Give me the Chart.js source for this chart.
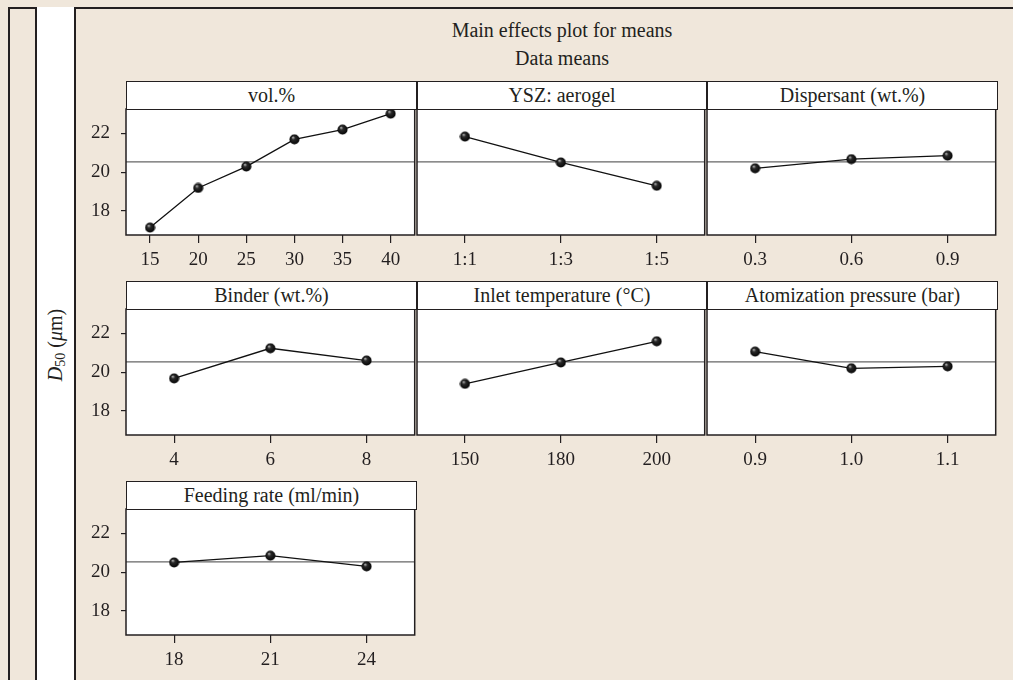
<!DOCTYPE html>
<html>
<head>
<meta charset="utf-8">
<script src="https://cdn.jsdelivr.net/npm/chart.js"></script>
<style>
  body { margin:0; background:#f0e7db; font-family:"Liberation Serif", serif; color:#231f20; }
  #page { position:relative; width:1013px; height:680px; overflow:hidden; }
  #frame { position:absolute; left:8px; top:7px; width:1100px; height:700px; border-left:2px solid #231f20; border-top:2px solid #231f20; }
  #strip { position:absolute; left:35px; top:7px; width:37px; height:700px; background:#fff; border-left:2px solid #231f20; border-right:2px solid #231f20; }
  #ylab { position:absolute; left:56px; top:345px; transform:translate(-50%,-50%) rotate(-90deg); font-size:20px; white-space:nowrap; }
  #ylab sub { font-size:14px; vertical-align:-3px; }
  .ttl { position:absolute; left:562px; transform:translate(-50%,-50%); font-size:20px; white-space:nowrap; }
  .head { position:absolute; height:29px; box-sizing:border-box; background:#fff; border:1.5px solid #231f20; text-align:center; font-size:20px; line-height:26px; white-space:nowrap; }
  canvas { position:absolute; }
</style>
</head>
<body>
<div id="page">
  <div id="frame"></div>
  <div id="strip"></div>
  <div id="ylab"><i>D</i><sub>50</sub> (<i>μ</i>m)</div>
  <div class="ttl" style="top:30px">Main effects plot for means</div>
  <div class="ttl" style="top:58px">Data means</div>
</div>
<script>
// factor levels and mean D50 values
var volLevels = ['15', '20', '25', '30', '35', '40'];
var volMeans = [17.15, 19.19, 20.29, 21.69, 22.19, 23.01];
var yszLevels = ['1:1', '1:3', '1:5'];
var yszMeans = [21.83, 20.5, 19.3];
var dispLevels = ['0.3', '0.6', '0.9'];
var dispMeans = [20.2, 20.67, 20.85];
var binderLevels = ['4', '6', '8'];
var binderMeans = [19.68, 21.23, 20.6];
var inletLevels = ['150', '180', '200'];
var inletMeans = [19.4, 20.5, 21.59];
var atomLevels = ['0.9', '1.0', '1.1'];
var atomMeans = [21.06, 20.2, 20.3];
var feedLevels = ['18', '21', '24'];
var feedMeans = [20.5, 20.85, 20.3];
var grandMean = 20.53;
var yTicks = [18, 20, 22];

var panels = [
  { title: 'vol.%', levels: volLevels, means: volMeans },
  { title: 'YSZ: aerogel', levels: yszLevels, means: yszMeans },
  { title: 'Dispersant (wt.%)', levels: dispLevels, means: dispMeans },
  { title: 'Binder (wt.%)', levels: binderLevels, means: binderMeans },
  { title: 'Inlet temperature (°C)', levels: inletLevels, means: inletMeans },
  { title: 'Atomization pressure (bar)', levels: atomLevels, means: atomMeans },
  { title: 'Feeding rate (ml/min)', levels: feedLevels, means: feedMeans }
];

// grid layout
var colX = [126, 417, 707];
var colW = [291, 290, 291];
var rowY = [109, 309, 509];
var plotH = 126;
var padTop = 30, yW = 60, xH = 40, padR = 4;
var ink = '#231f20';

// little shaded ball used as point marker
var dot = document.createElement('canvas');
dot.width = 11; dot.height = 11;
var dc = dot.getContext('2d');
var grad = dc.createRadialGradient(4, 3.5, 0.3, 5.5, 5.5, 5.5);
grad.addColorStop(0, '#b0b0b0');
grad.addColorStop(0.3, '#2a2a2a');
grad.addColorStop(1, '#000');
dc.fillStyle = grad;
dc.beginPath(); dc.arc(5.5, 5.5, 5, 0, Math.PI * 2); dc.fill();

var panelDeco = {
  id: 'panelDeco',
  beforeDraw: function(chart) {
    var a = chart.chartArea, c = chart.ctx;
    c.save();
    c.fillStyle = '#fff';
    c.fillRect(a.left, a.top, a.right - a.left, a.bottom - a.top);
    c.restore();
  },
  beforeDatasetsDraw: function(chart) {
    var a = chart.chartArea, c = chart.ctx;
    var y = chart.scales.y.getPixelForValue(grandMean);
    c.save();
    c.strokeStyle = '#666';
    c.lineWidth = 1.3;
    c.beginPath(); c.moveTo(a.left, y); c.lineTo(a.right, y); c.stroke();
    c.restore();
  },
  afterDraw: function(chart) {
    var a = chart.chartArea, c = chart.ctx;
    c.save();
    c.strokeStyle = ink;
    c.lineWidth = 1.5;
    c.strokeRect(a.left, a.top, a.right - a.left, a.bottom - a.top);
    c.restore();
  }
};

var page = document.getElementById('page');

panels.forEach(function(p, i) {
  var col = i % 3, row = Math.floor(i / 3);

  // header box with factor name
  var head = document.createElement('div');
  head.className = 'head';
  head.style.left = colX[col] + 'px';
  head.style.top = (rowY[row] - 28) + 'px';
  head.style.width = colW[col] + 'px';
  head.textContent = p.title;
  page.appendChild(head);

  var cv = document.createElement('canvas');
  var w = yW + colW[col] + padR, h = padTop + plotH + xH;
  cv.width = w; cv.height = h;
  cv.style.left = (colX[col] - yW) + 'px';
  cv.style.top = (rowY[row] - padTop) + 'px';
  cv.style.width = w + 'px'; cv.style.height = h + 'px';
  page.insertBefore(cv, page.querySelector('.head'));

  new Chart(cv, {
    type: 'line',
    data: {
      labels: p.levels,
      datasets: [{
        data: p.means,
        borderColor: '#111',
        borderWidth: 1.3,
        pointStyle: dot,
        pointRadius: 5,
        tension: 0,
        fill: false
      }]
    },
    options: {
      responsive: false,
      animation: false,
      events: [],
      layout: { padding: { top: padTop, right: padR, left: 0, bottom: 0 } },
      plugins: { legend: { display: false }, tooltip: { enabled: false } },
      scales: {
        x: {
          type: 'category',
          offset: true,
          border: { display: false },
          grid: { offset: false, drawOnChartArea: false, drawTicks: true, tickLength: 8, color: ink, lineWidth: 1.2 },
          ticks: { color: ink, padding: 6, maxRotation: 0, font: { family: 'Liberation Serif', size: 19 } },
          afterFit: function(s) { s.height = xH; }
        },
        y: {
          min: 16.77,
          max: 23.25,
          border: { display: false },
          afterBuildTicks: function(s) { s.ticks = yTicks.map(function(v) { return { value: v }; }); },
          grid: { drawOnChartArea: false, drawTicks: col === 0, tickLength: 5, color: ink, lineWidth: 1.2 },
          ticks: { display: col === 0, color: ink, padding: 11, font: { family: 'Liberation Serif', size: 19 } },
          afterFit: function(s) { s.width = yW; }
        }
      }
    },
    plugins: [panelDeco]
  });
});
</script>
</body>
</html>
